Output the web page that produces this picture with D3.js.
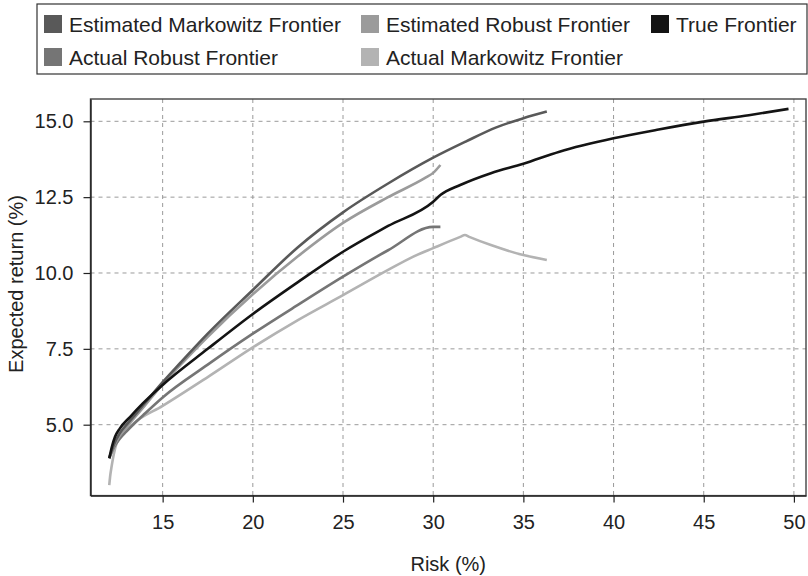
<!DOCTYPE html>
<html>
<head>
<meta charset="utf-8">
<script src="https://cdn.jsdelivr.net/npm/d3@7"></script>
<style>
  body { margin: 0; background: white; }
  svg { display: block; font-family: "Liberation Sans", Arial, sans-serif; }
</style>
</head>
<body>
<div id="chart-container"></div>
<script>
// Series: [risk %, expected return %]
const estimatedMarkowitz = [
    [12.04, 3.9], [12.3, 4.35], [12.6, 4.7], [13.0, 5.0], [13.5, 5.35], [14.0, 5.7],
    [15.0, 6.4], [16.0, 7.05], [17.5, 8.0], [20.0, 9.44], [22.5, 10.85], [25.0, 12.0],
    [27.5, 12.95], [30.0, 13.8], [31.8, 14.33], [33.5, 14.8], [35.0, 15.1], [36.3, 15.32]
]
const estimatedRobust = [
    [12.04, 3.9], [12.3, 4.3], [12.6, 4.62], [13.0, 4.92], [13.5, 5.27], [14.0, 5.62],
    [15.0, 6.34], [16.0, 6.98], [17.5, 7.9], [20.0, 9.3], [22.5, 10.55], [25.0, 11.65],
    [27.5, 12.5], [29.6, 13.15], [30.0, 13.3], [30.4, 13.56]
]
const trueFrontier = [
    [12.04, 3.89], [12.2, 4.3], [12.36, 4.6], [12.63, 4.88], [13.2, 5.26], [13.9, 5.7],
    [15.0, 6.31], [17.5, 7.5], [20.0, 8.65], [22.5, 9.7], [25.0, 10.7], [27.5, 11.55],
    [30.0, 12.35], [30.4, 12.57], [31.5, 12.9], [33.2, 13.29], [35.0, 13.6], [37.0, 14.0],
    [40.0, 14.44], [42.5, 14.73], [45.0, 14.99], [47.5, 15.2], [49.7, 15.41]
]
const actualRobust = [
    [12.04, 3.9], [12.3, 4.25], [12.6, 4.52], [13.0, 4.78], [13.5, 5.08], [14.0, 5.36],
    [15.0, 5.9], [17.5, 6.98], [20.0, 8.0], [22.5, 8.95], [25.0, 9.88], [27.5, 10.75],
    [30.0, 11.52], [30.4, 11.52]
]
const actualMarkowitz = [
    [12.04, 3.01], [12.1, 3.35], [12.17, 3.62], [12.3, 4.05], [12.45, 4.39], [12.82, 4.72],
    [13.4, 5.05], [15.0, 5.62], [17.5, 6.57], [20.0, 7.55], [22.5, 8.45], [25.0, 9.27],
    [27.5, 10.1], [28.9, 10.54], [30.0, 10.82], [31.5, 11.19], [31.76, 11.25], [32.0, 11.19],
    [33.2, 10.92], [35.0, 10.59], [36.3, 10.43]
]

const seriesNames = ['Estimated Markowitz Frontier', 'Estimated Robust Frontier', 'True Frontier',
    'Actual Robust Frontier', 'Actual Markowitz Frontier']
const seriesData = [estimatedMarkowitz, estimatedRobust, trueFrontier, actualRobust, actualMarkowitz]
const seriesColors = ['#595959', '#9b9b9b', '#141414', '#757575', '#b3b3b3']

const xTicks = [15, 20, 25, 30, 35, 40, 45, 50]
const yTicks = [5.0, 7.5, 10.0, 12.5, 15.0]

class FrontierPlotter {
    constructor(options) {
        this.width = options.width
        this.height = options.height
        this.plotLeft = 90.5
        this.plotRight = 806
        this.plotTop = 99
        this.plotBottom = 495.6
        this.fontSize = 20

        this.xScale = d3.scaleLinear()
            .domain([11.0, 50.67])
            .range([this.plotLeft, this.plotRight])
        this.yScale = d3.scaleLinear()
            .domain([2.663, 15.735])
            .range([this.plotBottom, this.plotTop])

        this.svg = d3.select('#chart-container')
            .append('svg')
            .attr('width', this.width)
            .attr('height', this.height)
    }

    plot() {
        this.#createGrid()
        this.#plotLines()
        this.#createAxes()
        this.#createLegend()
    }

    #createGrid() {
        const grid = this.svg.append('g').attr('class', 'grid')
        grid.selectAll('.vgrid')
            .data(xTicks)
            .enter()
            .append('line')
            .attr('x1', d => this.xScale(d))
            .attr('x2', d => this.xScale(d))
            .attr('y1', this.plotTop)
            .attr('y2', this.plotBottom)
        grid.selectAll('.hgrid')
            .data(yTicks)
            .enter()
            .append('line')
            .attr('x1', this.plotLeft)
            .attr('x2', this.plotRight)
            .attr('y1', d => this.yScale(d))
            .attr('y2', d => this.yScale(d))
        grid.selectAll('line')
            .attr('stroke', '#9a9a9a')
            .attr('stroke-width', 1)
            .attr('stroke-dasharray', '4,4')
    }

    #plotLines() {
        const line = d3.line()
            .x(d => this.xScale(d[0]))
            .y(d => this.yScale(d[1]))
            .curve(d3.curveMonotoneX)
        // Draw back to front so the true frontier sits on top like the original
        const order = [4, 3, 1, 0, 2]
        order.forEach(i => {
            this.svg.append('path')
                .datum(seriesData[i])
                .attr('d', line)
                .attr('fill', 'none')
                .attr('stroke', seriesColors[i])
                .attr('stroke-width', 2.6)
                .attr('stroke-linejoin', 'round')
        })
    }

    #createAxes() {
        this.svg.append('rect')
            .attr('x', this.plotLeft)
            .attr('y', this.plotTop)
            .attr('width', this.plotRight - this.plotLeft)
            .attr('height', this.plotBottom - this.plotTop)
            .attr('fill', 'none')
            .attr('stroke', '#444')
            .attr('stroke-width', 1.4)

        const xAxis = d3.axisBottom(this.xScale)
            .tickValues(xTicks)
            .tickSize(7)
            .tickSizeOuter(0)
            .tickPadding(12)
        const gx = this.svg.append('g')
            .attr('transform', 'translate(0,' + this.plotBottom + ')')
            .call(xAxis)

        const yAxis = d3.axisLeft(this.yScale)
            .tickValues(yTicks)
            .tickFormat(d3.format('.1f'))
            .tickSize(7)
            .tickSizeOuter(0)
            .tickPadding(10)
        const gy = this.svg.append('g')
            .attr('transform', 'translate(' + this.plotLeft + ',0)')
            .call(yAxis)

        ;[gx, gy].forEach(g => {
            g.select('.domain').attr('stroke', '#222').attr('stroke-width', 1.4)
            g.selectAll('.tick line').attr('stroke', '#222').attr('stroke-width', 1.2)
            g.selectAll('.tick text')
                .attr('fill', '#222')
                .style('font-size', this.fontSize + 'px')
                .style('font-family', '"Liberation Sans", Arial, sans-serif')
        })

        this.svg.append('text')
            .attr('x', (this.plotLeft + this.plotRight) / 2)
            .attr('y', 571)
            .attr('text-anchor', 'middle')
            .attr('fill', '#222')
            .style('font-size', '20px')
            .text('Risk (%)')

        this.svg.append('text')
            .attr('transform', 'translate(23,' + 284 + ') rotate(-90)')
            .attr('text-anchor', 'middle')
            .attr('fill', '#222')
            .style('font-size', '20px')
            .text('Expected return (%)')
    }

    #createLegend() {
        const legend = this.svg.append('g').attr('id', 'legend')
        legend.append('rect')
            .attr('x', 37)
            .attr('y', 4)
            .attr('width', 770)
            .attr('height', 70)
            .attr('fill', 'white')
            .attr('stroke', '#333')
            .attr('stroke-width', 1.2)

        const positions = [[44, 24], [361, 24], [651, 24], [44, 57], [361, 57]]
        const items = legend.selectAll('.legend-item')
            .data(seriesNames)
            .enter()
            .append('g')
            .attr('class', 'legend-item')
            .attr('transform', (d, i) => 'translate(' + positions[i][0] + ',' + positions[i][1] + ')')

        items.append('rect')
            .attr('x', 0)
            .attr('y', -9)
            .attr('width', 18)
            .attr('height', 18)
            .attr('fill', (d, i) => seriesColors[i])

        items.append('text')
            .attr('x', 25)
            .attr('y', 7.5)
            .attr('fill', '#222')
            .style('font-size', '21px')
            .text(d => d)
    }
}

const plotter = new FrontierPlotter({ width: 808, height: 576 })
plotter.plot()
</script>
</body>
</html>
